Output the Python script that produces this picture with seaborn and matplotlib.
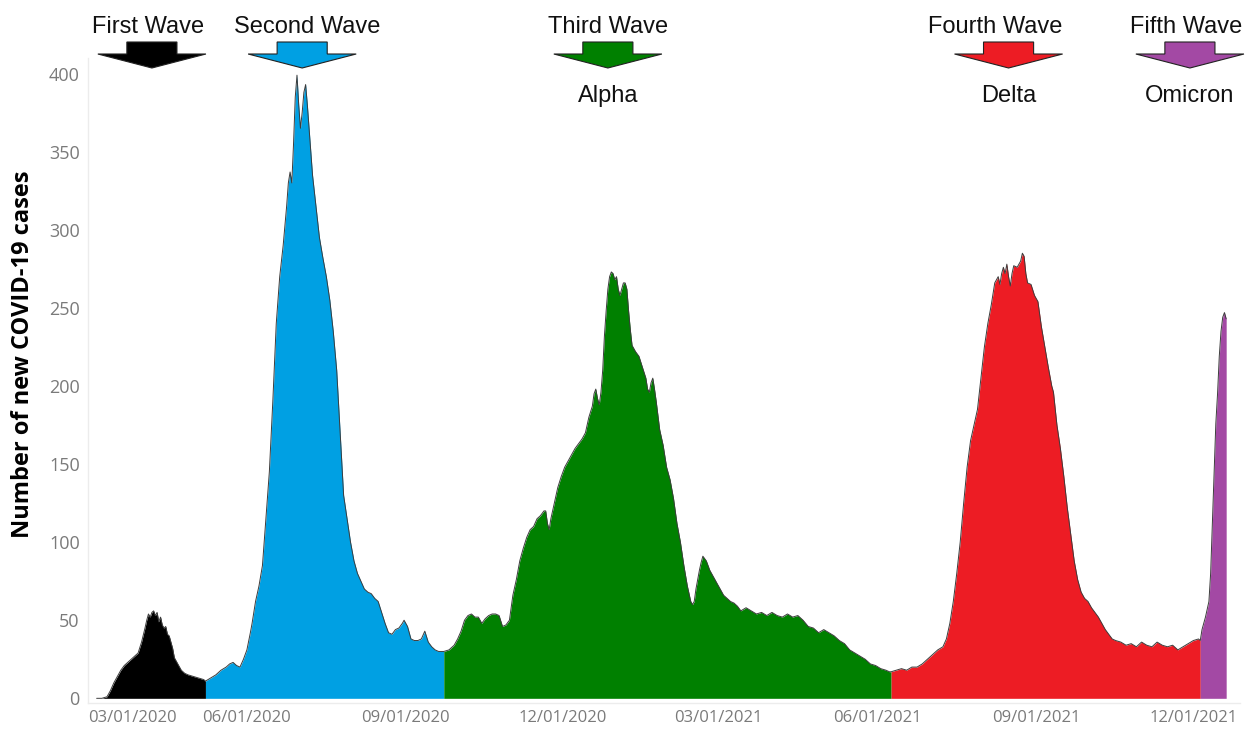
import numpy as np
import pandas as pd
import matplotlib
matplotlib.use("Agg")
import matplotlib.pyplot as plt
import matplotlib.dates as mdates
from matplotlib.patches import Polygon
from matplotlib.transforms import blended_transform_factory
import seaborn as sns

# ---------------- data ----------------
start = pd.Timestamp("2020-03-01")
day = [5, 8, 11, 13, 15, 17, 19, 21, 23, 25, 27, 29, 31, 33, 34, 35, 36, 37, 38, 39, 40, 41, 42, 43, 44, 45,
       46, 47, 49, 50, 52, 54, 56, 58, 61, 64, 67, 68,
       71, 74, 77, 80, 82, 84, 86, 88, 90, 92, 94, 95, 96, 97, 99, 101, 103, 105, 107, 109, 111, 113, 115,
       116, 117, 118, 119, 120, 121, 122, 123, 124, 125, 126, 127, 128, 130, 132, 134, 136, 138, 140, 142,
       144, 146, 148, 150, 152, 154, 156, 158, 160, 162, 164, 166, 168, 170, 172, 174, 176, 178, 180, 182,
       183, 185, 187, 189, 191, 193, 195, 197, 199, 201, 203, 205, 206,
       209, 212, 214, 216, 218, 220, 222, 224, 226, 228, 230, 232, 234, 236, 238, 240, 242, 244, 245, 246,
       248, 250, 252, 254, 256, 258, 260, 262, 264, 265, 266, 267, 268, 270, 272, 274, 276, 278, 280, 282,
       284, 286, 288, 290, 292, 293, 294, 295, 296, 297, 298, 299, 300, 301, 302, 303, 304, 305, 306, 307,
       308, 309, 310, 311, 312, 313, 314, 315, 317, 319, 321, 323, 324, 325, 326, 327, 328, 329, 331, 333,
       335, 337, 339, 341, 343, 345, 347, 349, 350, 351, 352, 354, 355, 356, 358, 360, 362, 364, 366, 368,
       370, 372, 374, 376, 378, 381, 384, 387, 390, 393, 396, 399, 402, 405, 408, 411, 414, 417, 420, 423,
       426, 429, 432, 435, 438, 441, 444, 447, 450, 453, 456, 459, 462, 464, 465,
       468, 471, 474, 477, 480, 483, 486, 489, 492, 495, 497, 499, 501, 503, 505, 507, 509, 511, 513, 515,
       517, 519, 521, 523, 525, 527, 528, 529, 530, 531, 532, 533, 534, 535, 536, 538, 540, 541, 542, 543,
       544, 546, 548, 550, 552, 554, 556, 558, 559, 561, 563, 565, 567, 569, 571, 573, 575, 577, 579, 581,
       583, 585, 587, 589, 591, 593, 595, 598, 601, 604, 607, 610, 613, 616, 619, 622, 625, 628, 631, 634,
       637, 640, 643, 644,
       645, 646, 647, 648, 649, 650, 651, 652, 653, 654, 655, 656, 657, 658, 659]
cases = [0, 0, 1, 5, 10, 14, 18, 21, 23, 25, 27, 29, 36, 45, 50, 54, 52, 55, 56, 53, 55, 49, 52, 47, 45, 46,
         41, 40, 32, 26, 22, 18, 16, 15, 14, 13, 12, 11,
         13, 15, 18, 20, 22, 23, 21, 20, 25, 31, 42, 48, 55, 62, 72, 85, 115, 145, 190, 240, 270, 290, 315,
         330, 337, 330, 355, 385, 399, 380, 365, 375, 388, 393, 380, 365, 335, 315, 295, 282, 270, 255, 235,
         210, 170, 130, 115, 100, 88, 80, 75, 70, 68, 67, 64, 62, 55, 48, 42, 41, 44, 45, 48,
         50, 46, 38, 37, 37, 38, 43, 36, 33, 31, 30, 30, 30,
         31, 34, 38, 43, 50, 53, 54, 52, 52, 48, 51, 53, 54, 54, 53, 46, 47, 50, 58, 66,
         76, 88, 96, 103, 108, 110, 115, 117, 120, 120, 112, 108, 115, 125, 135, 142, 148, 152, 156, 160,
         163, 166, 170, 180, 187, 195, 198, 192, 188, 196, 210, 232, 248, 262, 270, 273, 272, 268, 270, 262,
         258, 262, 266, 266, 262, 248, 236, 226, 222, 219, 212, 205, 198, 196, 202, 205, 198, 190, 172, 162,
         148, 140, 128, 112, 100, 85, 72, 62, 60, 62, 70, 82, 87, 91, 88, 82, 78, 74, 70, 66,
         64, 62, 61, 59, 56, 58, 56, 54, 55, 53, 55, 53, 52, 54, 52, 53, 50, 46, 45, 42,
         44, 42, 40, 37, 35, 31, 29, 27, 25, 22, 21, 19, 18, 17, 17,
         18, 19, 18, 20, 20, 22, 25, 28, 31, 33, 38, 48, 62, 80, 100, 125, 148, 165, 175, 185,
         205, 225, 240, 252, 266, 270, 265, 272, 276, 272, 278, 270, 264, 272, 277, 276, 280, 285, 283, 272,
         266, 265, 258, 254, 238, 225, 212, 200, 196, 175, 160, 142, 122, 105, 88, 76, 68, 64, 62, 58,
         55, 52, 48, 44, 41, 38, 37, 36, 34, 35, 33, 36, 34, 33, 36, 34, 33, 34, 31, 33,
         35, 37, 38, 37,
         44, 48, 52, 57, 62, 80, 112, 145, 176, 195, 219, 235, 244, 247, 243]

wave_start_day = [5, 68, 206, 465, 644]
wave_end_day = [68, 206, 465, 644, 659]
wave_colors = ["#000000", "#00A0E3", "#008000", "#ED1C24", "#A349A4"]
wave_titles = ["First Wave", "Second Wave", "Third Wave", "Fourth Wave", "Fifth Wave"]
wave_variants = ["", "", "Alpha", "Delta", "Omicron"]
arrow_center_day = [37, 124, 301, 533, 638]
title_center_day = [35, 127, 301, 525, 636]

x_ticks = ["2020-03-01", "2020-06-01", "2020-09-01", "2020-12-01",
           "2021-03-01", "2021-06-01", "2021-09-01", "2021-12-01"]
y_ticks = [0, 50, 100, 150, 200, 250, 300, 350, 400]

# ---------------- frame ----------------
df = pd.DataFrame({"date": start + pd.to_timedelta(day, unit="D"), "cases": cases, "day": day})

sns.set_theme(style="white")
plt.rcParams["font.family"] = ["Open Sans", "DejaVu Sans"]

fig = plt.figure(figsize=(12.5, 7.3), dpi=100)
ax = fig.add_axes([88 / 1250, 1 - 703 / 730, (1240 - 88) / 1250, (703 - 58) / 730])

for s, e, c in zip(wave_start_day, wave_end_day, wave_colors):
    seg = df[(df["day"] >= s) & (df["day"] <= e)]
    ax.fill_between(seg["date"], seg["cases"], 0, color=c, linewidth=0, zorder=2)

sns.lineplot(data=df, x="date", y="cases", ax=ax, color="#3c3c3c", linewidth=0.7, zorder=3)

ax.set_xlim(pd.Timestamp("2020-03-01"), pd.Timestamp("2021-12-28"))
ax.set_ylim(-3, 410)

ax.set_xticks([pd.Timestamp(t) for t in x_ticks])
ax.set_xticklabels([pd.Timestamp(t).strftime("%m/%d/%Y") for t in x_ticks])
ax.xaxis.get_ticklabels()[0].set_horizontalalignment("left")
ax.set_yticks(y_ticks)
ax.set_yticklabels([str(v) for v in y_ticks])
ax.tick_params(axis="x", length=0, pad=5, labelsize=12, labelcolor="#7a7a7a")
ax.tick_params(axis="y", length=0, pad=6, labelsize=13, labelcolor="#7a7a7a")

ax.set_xlabel("")
ax.set_ylabel("Number of new COVID-19 cases", fontsize=17, fontweight="bold", color="black")
ax.yaxis.set_label_coords(-0.046, 0.54)

for side in ["top", "right"]:
    ax.spines[side].set_visible(False)
for side in ["left", "bottom"]:
    ax.spines[side].set_color("#ececec")
    ax.spines[side].set_linewidth(1.0)
ax.grid(False)

# ---------------- wave arrows ----------------
tr = blended_transform_factory(ax.transData, fig.transFigure)
y_top = 1 - 42 / 730
y_neck = 1 - 54 / 730
y_tip = 1 - 68 / 730
head_hw = 31.3
shaft_hw = 14.5
for cd, td, c, t, v in zip(arrow_center_day, title_center_day, wave_colors, wave_titles, wave_variants):
    cx = mdates.date2num(start + pd.Timedelta(days=cd))
    tx = mdates.date2num(start + pd.Timedelta(days=td))
    pts = [(cx - head_hw, y_neck), (cx - shaft_hw, y_neck), (cx - shaft_hw, y_top),
           (cx + shaft_hw, y_top), (cx + shaft_hw, y_neck), (cx + head_hw, y_neck), (cx, y_tip)]
    poly = Polygon(pts, closed=True, transform=tr, facecolor=c, edgecolor="#222222",
                   linewidth=0.8, clip_on=False, zorder=5)
    fig.add_artist(poly)
    fig.text(tx, 1 - 27 / 730, t, transform=tr, ha="center", va="center",
             fontsize=17, family=["Liberation Sans", "DejaVu Sans"], color="#111111")
    if v:
        fig.text(cx, 1 - 96 / 730, v, transform=tr, ha="center", va="center",
                 fontsize=17, family=["Liberation Sans", "DejaVu Sans"], color="#111111")

fig.savefig("out.png", dpi=100, facecolor="white")
